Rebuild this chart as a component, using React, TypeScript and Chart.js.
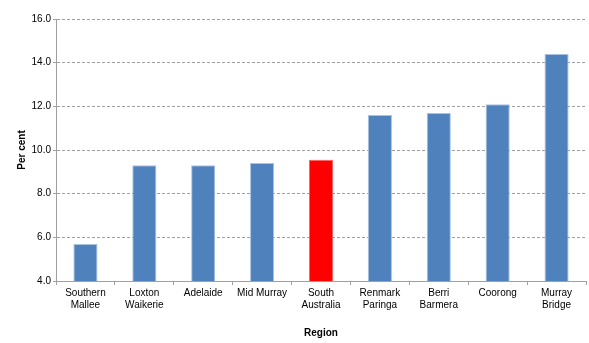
import React, { useEffect, useRef } from "react";
import { Chart, registerables } from "chart.js";

Chart.register(...registerables);

const categories: string[][] = [
  ["Southern", "Mallee"],
  ["Loxton", "Waikerie"],
  ["Adelaide"],
  ["Mid Murray"],
  ["South", "Australia"],
  ["Renmark", "Paringa"],
  ["Berri", "Barmera"],
  ["Coorong"],
  ["Murray", "Bridge"],
];
const values: number[] = [5.7, 9.3, 9.3, 9.4, 9.55, 11.6, 11.7, 12.1, 14.4];
const highlightIndex = 4;
const yMin = 4;
const yMax = 16;
const yStep = 2;
const yTitle = "Per cent";
const xTitle = "Region";

const FONT = "'Liberation Sans', Arial, sans-serif";

export default function App() {
  const ref = useRef<HTMLCanvasElement | null>(null);
  useEffect(() => {
    document.body.style.margin = "0";
    const ctx = ref.current!;
    const blue = "#4F81BD";
    const red = "#FF0000";
    const chart = new Chart(ctx, {
      type: "bar",
      data: {
        labels: categories,
        datasets: [
          {
            data: values,
            backgroundColor: values.map((_, i) => (i === highlightIndex ? red : blue)),
            borderColor: values.map((_, i) => (i === highlightIndex ? "#FF6060" : "#A9C2E0")),
            borderWidth: 1,
            barPercentage: 0.41,
            categoryPercentage: 1,
          },
        ],
      },
      options: {
        animation: false,
        responsive: false,
        maintainAspectRatio: false,
        layout: { padding: { top: 19, right: 3, left: 0, bottom: 0 } },
        plugins: { legend: { display: false }, tooltip: { enabled: false } },
        scales: {
          x: {
            grid: {
              display: true,
              drawOnChartArea: false,
              drawTicks: true,
              tickLength: 4,
              color: "#A0A0A0",
              offset: true,
            },
            border: { display: true, color: "#A0A0A0", width: 1 },
            ticks: {
              color: "#000",
              font: { family: FONT, size: 10, lineHeight: 1.2 },
              padding: 2,
              maxRotation: 0,
              autoSkip: false,
            },
            title: {
              display: true,
              text: xTitle,
              color: "#000",
              font: { family: FONT, size: 10, weight: "bold" },
              padding: { top: 0, bottom: 4 },
            },
            afterFit: (s: any) => {
              s.height = 62;
            },
          },
          y: {
            min: yMin,
            max: yMax,
            grid: {
              color: "#A0A0A0",
              tickLength: 3,
              tickBorderDash: [],
              tickColor: "#A0A0A0",
            },
            border: { display: true, color: "#A0A0A0", width: 1, dash: [3, 2] },
            ticks: {
              stepSize: yStep,
              color: "#000",
              font: { family: FONT, size: 10 },
              padding: 2,
              callback: (v: any) => Number(v).toFixed(1),
            },
            title: {
              display: true,
              text: yTitle,
              color: "#000",
              font: { family: FONT, size: 10, weight: "bold" },
              padding: { top: 16, bottom: 0 },
            },
            afterFit: (s: any) => {
              s.width = 56;
            },
          },
        },
      },
      plugins: [
        {
          id: "solidYAxis",
          afterDraw: (c: any) => {
            const a = c.chartArea;
            const g = c.ctx;
            g.save();
            g.strokeStyle = "#A0A0A0";
            g.lineWidth = 1;
            g.setLineDash([]);
            g.beginPath();
            g.moveTo(Math.round(a.left) + 0.5, a.top);
            g.lineTo(Math.round(a.left) + 0.5, a.bottom);
            g.stroke();
            g.restore();
          },
        },
      ],
    });
    return () => chart.destroy();
  }, []);
  return (
    <div style={{ width: 589, height: 343 }}>
      <canvas ref={ref} width={589} height={343} style={{ width: 589, height: 343 }} />
    </div>
  );
}
